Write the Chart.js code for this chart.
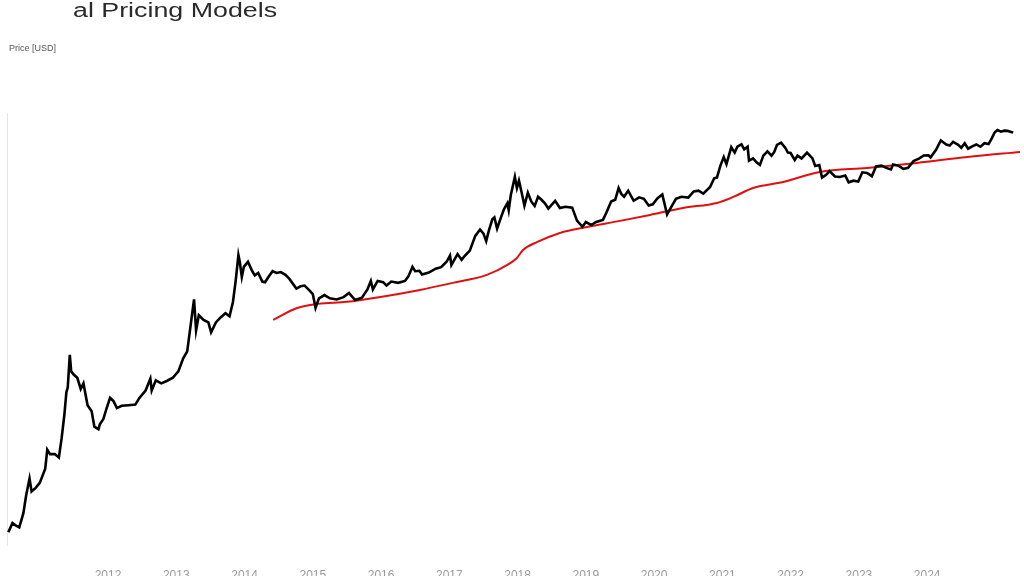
<!DOCTYPE html>
<html>
<head>
<meta charset="utf-8">
<script src="https://cdn.jsdelivr.net/npm/chart.js@4"></script>
<style>
  html, body { margin: 0; padding: 0; background: #fff; overflow: hidden; }
  #wrap { position: relative; width: 1024px; height: 590px; }
  #title {
    position: absolute; left: 73px; top: 0px;
    font: 20px "Liberation Sans", Arial, sans-serif; line-height: 20px;
    color: #2a2a2a; transform: scaleX(1.34); transform-origin: left top;
    white-space: nowrap;
  }
  #ylab {
    position: absolute; left: 9px; top: 43px;
    font: 9px "Liberation Sans", Arial, sans-serif; color: #555;
  }
  canvas { position: absolute; left: 0; top: 0; }
</style>
</head>
<body>
<div id="wrap">
  <canvas id="priceChart" width="1024" height="590"></canvas>
  <div id="title">al Pricing Models</div>
  <div id="ylab">Price [USD]</div>
</div>
<script>
// price (decimal year / USD)
const priceYears = [
  2010.54, 2010.60, 2010.64, 2010.70, 2010.76, 2010.80, 2010.85, 2010.88, 2010.94, 2011.00,
  2011.08, 2011.11, 2011.15, 2011.22, 2011.28, 2011.32, 2011.36, 2011.39, 2011.41, 2011.44,
  2011.46, 2011.50, 2011.55, 2011.60, 2011.64, 2011.70, 2011.76, 2011.80, 2011.86, 2011.88,
  2011.93, 2011.98, 2012.03, 2012.08, 2012.13, 2012.20, 2012.30, 2012.40, 2012.46, 2012.55,
  2012.62, 2012.64, 2012.70, 2012.78, 2012.86, 2012.95, 2013.03, 2013.10, 2013.16, 2013.21,
  2013.26, 2013.29, 2013.33, 2013.40, 2013.47, 2013.51, 2013.58, 2013.65, 2013.72, 2013.78,
  2013.83, 2013.87, 2013.91, 2013.93, 2013.96, 2013.99, 2014.05, 2014.11, 2014.15, 2014.20,
  2014.26, 2014.30, 2014.35, 2014.41, 2014.47, 2014.53, 2014.60, 2014.66, 2014.72, 2014.76,
  2014.82, 2014.88, 2014.95, 2015.00, 2015.04, 2015.09, 2015.17, 2015.25, 2015.35, 2015.45,
  2015.53, 2015.62, 2015.72, 2015.80, 2015.85, 2015.88, 2015.95, 2016.03, 2016.08, 2016.15,
  2016.25, 2016.35, 2016.40, 2016.46, 2016.50, 2016.56, 2016.60, 2016.70, 2016.80, 2016.88,
  2016.96, 2017.01, 2017.03, 2017.12, 2017.18, 2017.22, 2017.30, 2017.38, 2017.45, 2017.50,
  2017.54, 2017.58, 2017.63, 2017.66, 2017.70, 2017.75, 2017.80, 2017.85, 2017.87, 2017.90,
  2017.96, 2017.99, 2018.02, 2018.06, 2018.10, 2018.15, 2018.20, 2018.25, 2018.30, 2018.35,
  2018.40, 2018.45, 2018.55, 2018.62, 2018.70, 2018.80, 2018.87, 2018.95, 2019.00, 2019.08,
  2019.15, 2019.25, 2019.30, 2019.37, 2019.43, 2019.48, 2019.52, 2019.56, 2019.62, 2019.70,
  2019.78, 2019.85, 2019.92, 2019.98, 2020.05, 2020.12, 2020.19, 2020.25, 2020.32, 2020.40,
  2020.50, 2020.58, 2020.65, 2020.72, 2020.82, 2020.88, 2020.92, 2020.97, 2021.02, 2021.06,
  2021.13, 2021.18, 2021.22, 2021.28, 2021.32, 2021.37, 2021.39, 2021.45, 2021.50, 2021.55,
  2021.60, 2021.66, 2021.72, 2021.76, 2021.80, 2021.86, 2021.92, 2021.96, 2022.00, 2022.06,
  2022.10, 2022.16, 2022.24, 2022.32, 2022.36, 2022.42, 2022.46, 2022.52, 2022.57, 2022.65,
  2022.72, 2022.80, 2022.85, 2022.92, 2022.99, 2023.05, 2023.12, 2023.19, 2023.25, 2023.33,
  2023.40, 2023.47, 2023.50, 2023.58, 2023.65, 2023.72, 2023.80, 2023.88, 2023.95, 2024.02,
  2024.05, 2024.13, 2024.20, 2024.28, 2024.33, 2024.38, 2024.45, 2024.50, 2024.55, 2024.60,
  2024.66, 2024.72, 2024.78, 2024.84, 2024.90, 2024.95, 2024.99, 2025.03, 2025.08, 2025.13,
  2025.18, 2025.23, 2025.26
];
const priceUsd = [
  0.05, 0.07, 0.065, 0.06, 0.10, 0.19, 0.35, 0.22, 0.25, 0.30,
  0.50, 1.0, 0.85, 0.85, 0.75, 1.5, 3.5, 8.0, 9.5, 31,
  17, 15, 13.5, 9, 11, 5, 4, 2.3, 2.1, 2.5,
  3.0, 4.5, 6.5, 5.8, 4.5, 4.9, 5.0, 5.1, 6.5, 8.5,
  13, 8.5, 12.3, 11, 12, 13.5, 17, 27, 35, 90,
  230, 75, 130, 110, 100, 70, 100, 120, 140, 125,
  210, 450, 1150, 900, 520, 750, 900, 650, 550, 600,
  440, 430, 520, 640, 600, 620, 560, 480, 390, 340,
  370, 380, 320, 280, 170, 240, 270, 240, 230, 250,
  290, 225, 245, 330, 450, 330, 450, 430, 380, 440,
  420, 450, 530, 750, 640, 650, 570, 610, 700, 740,
  900, 1130, 800, 1190, 970, 1100, 1350, 2300, 2900, 2500,
  1900, 2800, 4200, 4500, 3000, 4300, 6000, 7500, 5800, 10000,
  19500, 13000, 17000, 11000, 6900, 11000, 8000, 6800, 9500, 8500,
  7500, 6200, 8200, 6300, 6600, 6400, 4000, 3200, 3800, 3400,
  3800, 4100, 5300, 8000, 8500, 13000, 10500, 9500, 11800, 8200,
  9300, 8800, 6900, 7200, 9000, 10300, 5000, 6500, 8800, 9500,
  9200, 11500, 11800, 10600, 13500, 18500, 19000, 29000, 40000, 31000,
  57000, 47000, 58000, 63500, 53000, 58000, 35000, 38000, 33000, 30000,
  42000, 49000, 42000, 48000, 62000, 67500, 56000, 47000, 46300, 36000,
  42000, 38000, 47000, 38000, 29000, 30000, 19000, 21000, 24000, 19800,
  19400, 20500, 16000, 17000, 16500, 23000, 22500, 20000, 28500, 29300,
  27000, 25500, 30500, 29200, 26000, 27000, 34500, 37700, 42300, 42600,
  39500, 52000, 73000, 63000, 60700, 69000, 62700, 56000, 66000, 54000,
  59000, 63000, 58000, 66000, 64000, 80000, 98000, 106000, 100000, 104000,
  103000, 99000, 97000
];

// red model line (decimal year / USD)
const modelYears = [
  2014.42, 2014.77, 2015.08, 2015.50, 2015.99, 2016.57, 2017.05, 2017.55, 2017.85, 2017.99,
  2018.08, 2018.29, 2018.62, 2019.02, 2019.50, 2019.94, 2020.42, 2020.92, 2021.16, 2021.45,
  2021.89, 2022.43, 2023.12, 2023.85, 2024.59, 2025.36
];
const modelUsd = [
  110, 169, 196, 211, 252, 325, 419, 560, 804, 1035,
  1383, 1848, 2560, 3180, 3960, 4910, 6330, 7590, 9420, 13060,
  16220, 23300, 26900, 32300, 40100, 48100
];

const yearTicks = [2012, 2013, 2014, 2015, 2016, 2017, 2018, 2019, 2020, 2021, 2022, 2023, 2024];

const ctx = document.getElementById('priceChart').getContext('2d');
new Chart(ctx, {
  type: 'line',
  data: {
    datasets: [{
      label: 'Price',
      data: priceYears.map((t, i) => ({ x: t, y: priceUsd[i] })),
      borderColor: '#000000',
      borderWidth: 2.6,
      pointRadius: 0,
      tension: 0,
      fill: false
    }, {
      label: 'Model',
      data: modelYears.map((t, i) => ({ x: t, y: modelUsd[i] })),
      borderColor: '#e01010',
      borderWidth: 2,
      pointRadius: 0,
      cubicInterpolationMode: 'monotone',
      fill: false
    }]
  },
  options: {
    responsive: false,
    animation: false,
    layout: { padding: { left: 7, right: 4, top: 113, bottom: 0 } },
    plugins: {
      legend: { display: false },
      tooltip: { enabled: false }
    },
    scales: {
      x: {
        type: 'linear',
        min: 2010.52,
        max: 2025.36,
        grid: { display: false },
        border: { display: false },
        afterBuildTicks: (axis) => { axis.ticks = yearTicks.map(v => ({ value: v })); },
        afterFit: (axis) => { axis.height = 45; },
        ticks: {
          color: '#9a9a9a',
          padding: 15,
          font: { size: 12, family: '"Liberation Sans", Arial, sans-serif' },
          maxRotation: 0,
          autoSkip: false,
          callback: (v) => String(v)
        }
      },
      y: {
        type: 'logarithmic',
        min: 0.0316,
        max: 197000,
        afterFit: (axis) => { axis.width = 0; },
        grid: { display: false },
        border: { display: true, color: '#e4e4e4', width: 1 },
        ticks: { display: false }
      }
    }
  }
});
</script>
</body>
</html>
